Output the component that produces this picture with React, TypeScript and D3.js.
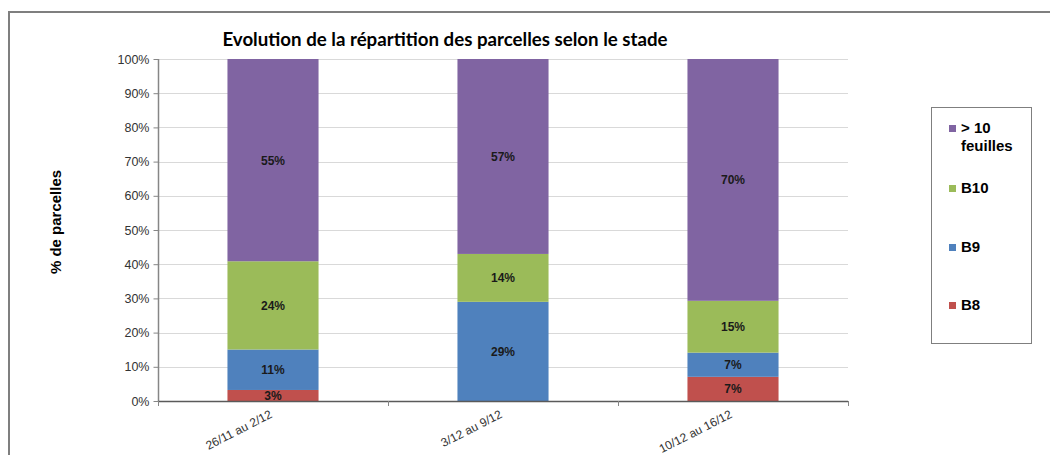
import React, { useEffect, useRef } from "react";
import * as d3 from "d3";

const categories = ["26/11 au 2/12", "3/12 au 9/12", "10/12 au 16/12"];
const seriesNames = ["B8", "B9", "B10", "> 10 feuilles"];
const seriesColors = ["#c0504d", "#4f81bd", "#9bbb59", "#8064a2"];
// percentages as labelled, per category, in series order
const b8 = [3, 0, 7];
const b9 = [11, 29, 7];
const b10 = [24, 14, 15];
const over10 = [55, 57, 70];
const yTicks = [0, 10, 20, 30, 40, 50, 60, 70, 80, 90, 100];

export default function App() {
  const svgRef = useRef<SVGSVGElement>(null);

  useEffect(() => {
    if (!svgRef.current) return;
    const svg = d3.select(svgRef.current);
    svg.selectAll("*").remove();

    const width = 1050;
    const height = 455;
    const margin = { top: 59, left: 158, right: 202, bottom: 54 };
    const innerW = width - margin.left - margin.right;
    const innerH = height - margin.top - margin.bottom;
    const font = "'Liberation Sans', Arial, sans-serif";

    svg.append("rect").attr("width", width).attr("height", height).attr("fill", "#fff");

    // outer frame (top and left edges visible)
    svg.append("path")
      .attr("d", `M9,${height} L9,12 L${width},12`)
      .attr("fill", "none")
      .attr("stroke", "#7f7f7f")
      .attr("stroke-width", 2);

    // Title
    svg.append("text")
      .attr("x", 445)
      .attr("y", 46)
      .attr("text-anchor", "middle")
      .style("font-family", "Lato, 'Open Sans', sans-serif")
      .style("font-weight", "bold")
      .style("font-size", "18.7px")
      .attr("fill", "#000")
      .text("Evolution de la répartition des parcelles selon le stade");

    const g = svg.append("g").attr("transform", `translate(${margin.left},${margin.top})`);

    const x = d3.scaleBand().domain(categories).range([0, innerW]).paddingInner(0.604).paddingOuter(0.302);
    const y = d3.scaleLinear().domain([0, 100]).range([innerH, 0]);

    // gridlines
    g.selectAll("line.grid")
      .data(yTicks.slice(1))
      .enter()
      .append("line")
      .attr("x1", 0)
      .attr("x2", innerW)
      .attr("y1", (d) => Math.round(y(d)) + 0.5)
      .attr("y2", (d) => Math.round(y(d)) + 0.5)
      .attr("stroke", "#d9d9d9")
      .attr("stroke-width", 1);

    // stacked data normalised to 100%
    const rows = categories.map((c, i) => {
      const vals = [b8[i], b9[i], b10[i], over10[i]];
      const total = d3.sum(vals);
      const row: any = { cat: c };
      seriesNames.forEach((s, j) => {
        row[s] = (vals[j] / total) * 100;
        row[s + "_label"] = vals[j];
      });
      return row;
    });
    const stack = d3.stack<any>().keys(seriesNames);
    const layers = stack(rows);

    layers.forEach((layer, li) => {
      const lg = g.append("g");
      layer.forEach((d) => {
        const label = d.data[seriesNames[li] + "_label"];
        if (!label) return;
        const x0 = x(d.data.cat) as number;
        const y0 = y(d[1]);
        const h = y(d[0]) - y(d[1]);
        lg.append("rect")
          .attr("x", x0)
          .attr("y", y0)
          .attr("width", x.bandwidth())
          .attr("height", h)
          .attr("fill", seriesColors[li]);
        lg.append("text")
          .attr("x", x0 + x.bandwidth() / 2)
          .attr("y", y0 + h / 2 + 4.5)
          .attr("text-anchor", "middle")
          .style("font-family", font)
          .style("font-weight", "bold")
          .style("font-size", "12px")
          .attr("fill", "#1a1a1a")
          .text(`${label}%`);
      });
    });

    // y axis
    const yAxis = g.append("g")
      .attr("transform", "translate(0.5,0)")
      .call(
        d3.axisLeft(y)
          .tickValues(yTicks)
          .tickSize(5)
          .tickPadding(4)
          .tickFormat((d) => `${d}%`)
      );
    yAxis.select(".domain").attr("stroke", "#868686").attr("stroke-width", 1.5).attr("d", `M0,0V${innerH}`);
    yAxis.selectAll(".tick line").attr("stroke", "#868686");
    yAxis.selectAll("text")
      .style("font-family", font)
      .style("font-size", "12.5px")
      .attr("fill", "#333");

    // x axis
    const xAxisG = g.append("g").attr("transform", `translate(0,${innerH})`);
    xAxisG.append("line")
      .attr("x1", 0)
      .attr("x2", innerW)
      .attr("y1", 0.5)
      .attr("y2", 0.5)
      .attr("stroke", "#5a5a5a")
      .attr("stroke-width", 1.5);
    const boundaries = d3.range(categories.length + 1).map((i) => (innerW / categories.length) * i);
    xAxisG.selectAll("line.xt")
      .data(boundaries)
      .enter()
      .append("line")
      .attr("x1", (d) => d + 0.5)
      .attr("x2", (d) => d + 0.5)
      .attr("y1", 0)
      .attr("y2", 5)
      .attr("stroke", "#868686");
    xAxisG.selectAll("text.xl")
      .data(categories)
      .enter()
      .append("text")
      .attr("text-anchor", "end")
      .attr("transform", (d) => `translate(${(x(d) as number) + x.bandwidth() / 2},${16}) rotate(-27)`)
      .style("font-family", font)
      .style("font-size", "12px")
      .attr("fill", "#333")
      .text((d) => d);

    // y axis title
    svg.append("text")
      .attr("transform", `translate(61,222) rotate(-90)`)
      .attr("text-anchor", "middle")
      .style("font-family", font)
      .style("font-weight", "bold")
      .style("font-size", "15px")
      .attr("fill", "#000")
      .text("% de parcelles");

    // legend
    const legend = svg.append("g");
    legend.append("rect")
      .attr("x", 931.5)
      .attr("y", 107.5)
      .attr("width", 100)
      .attr("height", 236)
      .attr("fill", "#fff")
      .attr("stroke", "#7f7f7f")
      .attr("stroke-width", 1);
    const legendItems = [
      { name: seriesNames[3], color: seriesColors[3], y: 128, lines: ["> 10", "feuilles"] },
      { name: seriesNames[2], color: seriesColors[2], y: 188, lines: ["B10"] },
      { name: seriesNames[1], color: seriesColors[1], y: 247, lines: ["B9"] },
      { name: seriesNames[0], color: seriesColors[0], y: 305, lines: ["B8"] },
    ];
    legendItems.forEach((it) => {
      legend.append("rect")
        .attr("x", 949)
        .attr("y", it.y - 3)
        .attr("width", 7)
        .attr("height", 7)
        .attr("fill", it.color);
      const t = legend.append("text")
        .attr("x", 961)
        .attr("y", it.y + 5)
        .style("font-family", font)
        .style("font-weight", "bold")
        .style("font-size", "15px")
        .attr("fill", "#000");
      it.lines.forEach((ln, i) => {
        t.append("tspan").attr("x", 961).attr("dy", i === 0 ? 0 : 18).text(ln);
      });
    });
  }, []);

  return (
    <svg
      ref={svgRef}
      width={1050}
      height={455}
      style={{ display: "block", position: "absolute", left: 0, top: 0 }}
    />
  );
}
